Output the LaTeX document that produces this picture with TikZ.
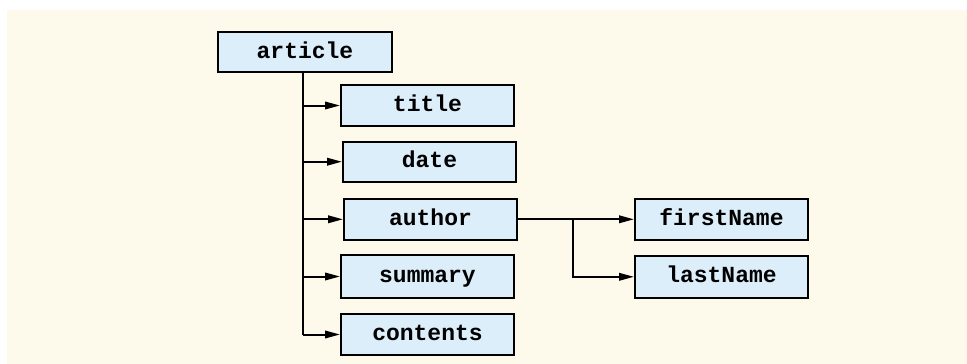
\documentclass[tikz,border=0pt]{standalone}
\usepackage{fontspec}
\setmonofont{Liberation Mono}
\usetikzlibrary{arrows.meta}
\definecolor{bgcream}{HTML}{FDFAEB}
\definecolor{boxblue}{HTML}{DCEEFA}
\begin{document}
\begin{tikzpicture}[x=1pt,y=-1pt,
  elem/.style={draw=black,line width=2pt,fill=boxblue,minimum width=173pt,minimum height=41pt,inner sep=0pt,text height=15pt,text depth=3pt,font=\ttfamily\bfseries\fontsize{23}{26}\selectfont},
  conn/.style={line width=2pt},
  arr/.style={conn,-{Triangle[length=15pt,width=7.5pt]}}]
\useasboundingbox (0,0) rectangle (967,364);
\fill[bgcream] (7,10) rectangle (967,364);
\node[elem,minimum width=174pt,minimum height=40pt] (article) at (305,52) {article};
\node[elem] (title) at (427.5,105.5) {title};
\node[elem,minimum height=40pt] (date) at (429.5,161.7) {date};
\node[elem,minimum height=40.6pt] (author) at (430.5,219.3) {author};
\node[elem,minimum height=42.5pt] (summary) at (427.5,276.5) {summary};
\node[elem] (contents) at (427.5,334.5) {contents};
\node[elem,minimum height=40.6pt] (firstName) at (721.5,219.3) {firstName};
\node[elem,minimum height=42pt] (lastName) at (721.5,276.8) {lastName};
\coordinate (trunk) at (303,0);
\coordinate (branch) at (573,0);
\draw[conn] (article.south -| trunk) -- (trunk |- contents.west);
\draw[arr] (trunk |- title.west) -- (title.west);
\draw[arr] (trunk |- date.west) -- (date.west);
\draw[arr] (trunk |- author.west) -- (author.west);
\draw[arr] (trunk |- summary.west) -- (summary.west);
\draw[arr] (trunk |- contents.west) -- (contents.west);
\draw[arr] (author.east) -- (firstName.west);
\draw[arr] (branch |- author.east) |- (lastName.west);
\end{tikzpicture}
\end{document}
